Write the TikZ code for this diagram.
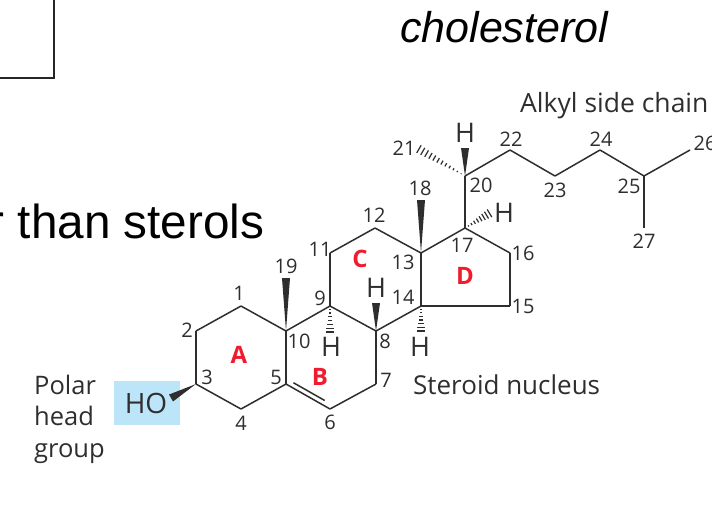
\documentclass[tikz,border=0pt]{standalone}
\usepackage{fontspec}
\setmainfont{Open Sans}
\newfontfamily\slidefont{Liberation Sans}
\usepackage{xcolor}
\usetikzlibrary{calc}
\definecolor{bondgray}{HTML}{2E2E2E}
\definecolor{headblue}{HTML}{BDE5F9}
\definecolor{ringred}{HTML}{EE1C2E}
\tikzset{
    bond/.style={line width=1.5pt,draw=bondgray,line join=round},
    numlabel/.style={inner sep=0pt,text=bondgray,font=\fontsize{20}{20}\selectfont},
    hlabel/.style={inner sep=0pt,text=bondgray,font=\fontsize{27}{27}\selectfont},
    caption/.style={inner sep=0pt,anchor=base west,text=bondgray,font=\fontsize{26}{31.5}\selectfont},
    ringlabel/.style={inner sep=0pt,text=ringred,font=\fontsize{24}{24}\selectfont\bfseries},
    slidetext/.style={inner sep=0pt,anchor=base west,text=black}
}
\newcommand{\wedgebond}[2]{\fill[bondgray] (#1) -- ($(#2)!4pt!90:(#1)$) -- ($(#2)!4pt!-90:(#1)$) -- cycle;}
\newcommand{\hashbond}[3]{\foreach \t in {#3} {
    \draw[line width=1.2pt,bondgray] ($(#1)!\t!(#2)!\t*4.6pt!90:(#2)$) -- ($(#1)!\t!(#2)!\t*4.6pt!-90:(#2)$);
}}
\begin{document}
\begin{tikzpicture}[x=1pt,y=-1pt]
    \useasboundingbox (0,0) rectangle (712,520);

    % Slide leftovers
    \draw[line width=1.5pt,black!85] (-5,78) -- (54,78) -- (54,-5);
    \node[slidetext,font=\fontsize{43}{43}\slidefont\itshape] (title) at (400,42) {cholesterol};
    \node[slidetext,font=\fontsize{47.7}{47.7}\slidefont] (sterols) at (-11.5,238) {r than sterols};

    % Polar head highlight
    \fill[headblue] (114,381) rectangle (180,425);

    % Atom positions
    \foreach \n/\x/\y in {1/241/306,2/196/331,3/196/384,4/241/409,5/286/384,6/330/409,
        7/376/384,8/376/331,9/330/306,10/286/331,11/330/253,12/375/228,13/421/253,14/421/306,
        15/510/306,16/510/253,17/465/228,18/421/200,19/286/278,20/465/176,21/417/148,22/510/150,
        23/555/176,24/600/150,25/644/176,26/690/150,27/644/228} {
        \coordinate (c\n) at (\x,\y);
    }
    \coordinate (ho) at (171,398);
    \coordinate (h8) at (376,303);
    \coordinate (h9) at (330,333);
    \coordinate (h14) at (421,332);
    \coordinate (h17) at (490,213);
    \coordinate (h20) at (465,148);

    % Ring and chain bonds
    \foreach \a/\b in {1/2,2/3,3/4,4/5,5/6,6/7,7/8,8/9,9/10,10/1,10/5,9/11,11/12,12/13,13/14,14/8,
        13/17,17/16,16/15,15/14,17/20,20/22,22/23,23/24,24/25,25/26,25/27} {
        \draw[bond] (c\a) -- (c\b);
    }
    % Double bond
    \draw[bond] ($(c5)!0.17!(c6)+(0,-5.5)$) -- ($(c5)!0.88!(c6)+(0,-5.5)$);

    % Wedges
    \wedgebond{c10}{c19}
    \wedgebond{c13}{c18}
    \wedgebond{c3}{ho}
    \wedgebond{c8}{h8}
    \wedgebond{c20}{h20}

    % Hashed bonds
    \hashbond{c9}{h9}{0.12,0.26,...,1.0}
    \hashbond{c14}{h14}{0.12,0.26,...,1.0}
    \hashbond{c17}{h17}{0.14,0.26,...,1.0}
    \hashbond{c20}{c21}{0.08,0.16,...,1.0}

    % Carbon numbers
    \foreach \n/\x/\y in {1/239/293,2/187/330,3/207/377,4/241/423,5/276/377,6/330/422,7/386/380,
        8/385/341,9/320/298,10/299/341,11/320/249,12/374/215,13/403/262,14/403/297,15/523/306,
        16/523/253,17/462/245,18/420/188,19/286/266,20/481/185,21/404/148,22/511/139,23/555/190,
        24/601/139,25/629/186,26/705/143,27/644/241} {
        \node[numlabel] (n\n) at (\x,\y) {\n};
    }

    % Hydrogens
    \node[hlabel] (hn8) at (376,288) {H};
    \node[hlabel] (hn9) at (331,347) {H};
    \node[hlabel] (hn14) at (420,347) {H};
    \node[hlabel] (hn17) at (504,213) {H};
    \node[hlabel] (hn20) at (465,133) {H};
    \node[hlabel,font=\fontsize{28}{28}\selectfont] (hoh) at (146,403) {HO};

    % Ring letters
    \node[ringlabel] (ringA) at (239,355) {A};
    \node[ringlabel] (ringB) at (320,377) {B};
    \node[ringlabel] (ringC) at (360,259) {C};
    \node[ringlabel] (ringD) at (465,276) {D};

    % Captions
    \node[caption,font=\fontsize{25.5}{31.5}\selectfont,align=left,anchor=west] (polar) at (34,419) {Polar\\head\\group};
    \node[caption] (nucleus) at (413,394) {Steroid nucleus};
    \node[caption,font=\fontsize{26.5}{31.5}\selectfont] (chain) at (520,112) {Alkyl side chain};
\end{tikzpicture}
\end{document}
